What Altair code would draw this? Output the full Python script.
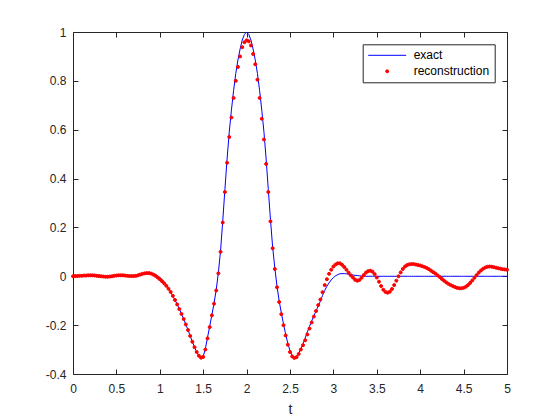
import altair as alt
import pandas as pd

# sample times of the reconstruction (dots every 0.025)
t = [
    0.000, 0.025, 0.050, 0.075, 0.100, 0.125, 0.150, 0.175, 0.200, 0.225,
    0.250, 0.275, 0.300, 0.325, 0.350, 0.375, 0.400, 0.425, 0.450, 0.475,
    0.500, 0.525, 0.550, 0.575, 0.600, 0.625, 0.650, 0.675, 0.700, 0.725,
    0.750, 0.775, 0.800, 0.825, 0.850, 0.875, 0.900, 0.925, 0.950, 0.975,
    1.000, 1.025, 1.050, 1.075, 1.100, 1.125, 1.150, 1.175, 1.200, 1.225,
    1.250, 1.275, 1.300, 1.325, 1.350, 1.375, 1.400, 1.425, 1.450, 1.475,
    1.500, 1.525, 1.550, 1.575, 1.600, 1.625, 1.650, 1.675, 1.700, 1.725,
    1.750, 1.775, 1.800, 1.825, 1.850, 1.875, 1.900, 1.925, 1.950, 1.975,
    2.000, 2.025, 2.050, 2.075, 2.100, 2.125, 2.150, 2.175, 2.200, 2.225,
    2.250, 2.275, 2.300, 2.325, 2.350, 2.375, 2.400, 2.425, 2.450, 2.475,
    2.500, 2.525, 2.550, 2.575, 2.600, 2.625, 2.650, 2.675, 2.700, 2.725,
    2.750, 2.775, 2.800, 2.825, 2.850, 2.875, 2.900, 2.925, 2.950, 2.975,
    3.000, 3.025, 3.050, 3.075, 3.100, 3.125, 3.150, 3.175, 3.200, 3.225,
    3.250, 3.275, 3.300, 3.325, 3.350, 3.375, 3.400, 3.425, 3.450, 3.475,
    3.500, 3.525, 3.550, 3.575, 3.600, 3.625, 3.650, 3.675, 3.700, 3.725,
    3.750, 3.775, 3.800, 3.825, 3.850, 3.875, 3.900, 3.925, 3.950, 3.975,
    4.000, 4.025, 4.050, 4.075, 4.100, 4.125, 4.150, 4.175, 4.200, 4.225,
    4.250, 4.275, 4.300, 4.325, 4.350, 4.375, 4.400, 4.425, 4.450, 4.475,
    4.500, 4.525, 4.550, 4.575, 4.600, 4.625, 4.650, 4.675, 4.700, 4.725,
    4.750, 4.775, 4.800, 4.825, 4.850, 4.875, 4.900, 4.925, 4.950, 4.975,
    5.000,
]

exact = [
    0.000, 0.000, 0.000, 0.000, 0.000, 0.000, 0.000, 0.000, 0.000, 0.000,
    0.000, 0.000, 0.000, 0.000, 0.000, 0.000, 0.000, 0.000, 0.000, 0.000,
    0.000, 0.000, 0.000, 0.000, 0.000, 0.001, 0.001, 0.002, 0.002, 0.003,
    0.004, 0.005, 0.007, 0.008, 0.010, 0.011, 0.011, 0.010, 0.007, 0.002,
    -0.005, -0.013, -0.023, -0.035, -0.049, -0.064, -0.080, -0.097, -0.115, -0.134,
    -0.154, -0.175, -0.197, -0.220, -0.244, -0.268, -0.290, -0.310, -0.325, -0.333,
    -0.328, -0.297, -0.250, -0.205, -0.158, -0.110, -0.055, 0.015, 0.105, 0.225,
    0.355, 0.480, 0.590, 0.680, 0.760, 0.830, 0.885, 0.930, 0.967, 0.990,
    1.000, 0.990, 0.967, 0.930, 0.885, 0.830, 0.760, 0.680, 0.590, 0.480,
    0.355, 0.232, 0.120, 0.035, -0.040, -0.100, -0.150, -0.195, -0.237, -0.275,
    -0.305, -0.325, -0.333, -0.328, -0.315, -0.297, -0.277, -0.253, -0.228, -0.205,
    -0.183, -0.162, -0.142, -0.122, -0.102, -0.078, -0.058, -0.041, -0.027, -0.015,
    -0.005, 0.002, 0.007, 0.010, 0.011, 0.011, 0.010, 0.008, 0.007, 0.005,
    0.004, 0.003, 0.002, 0.001, 0.001, 0.000, 0.000, 0.000, 0.000, 0.000,
    0.000, 0.000, 0.000, 0.000, 0.000, 0.000, 0.000, 0.000, 0.000, 0.000,
    0.000, 0.000, 0.000, 0.000, 0.000, 0.000, 0.000, 0.000, 0.000, 0.000,
    0.000, 0.000, 0.000, 0.000, 0.000, 0.000, 0.000, 0.000, 0.000, 0.000,
    0.000, 0.000, 0.000, 0.000, 0.000, 0.000, 0.000, 0.000, 0.000, 0.000,
    0.000, 0.000, 0.000, 0.000, 0.000, 0.000, 0.000, 0.000, 0.000, 0.000,
    0.000, 0.000, 0.000, 0.000, 0.000, 0.000, 0.000, 0.000, 0.000, 0.000,
    0.000,
]

reconstruction = [
    0.000, 0.001, 0.001, 0.002, 0.002, 0.003, 0.003, 0.004, 0.004, 0.004,
    0.003, 0.002, 0.001, 0.000, -0.001, -0.002, -0.002, -0.001, 0.000, 0.002,
    0.003, 0.004, 0.004, 0.004, 0.003, 0.002, 0.001, 0.001, 0.001, 0.002,
    0.004, 0.007, 0.010, 0.012, 0.013, 0.013, 0.011, 0.007, 0.002, -0.005,
    -0.012, -0.020, -0.029, -0.039, -0.051, -0.064, -0.080, -0.097, -0.115, -0.134,
    -0.154, -0.175, -0.197, -0.220, -0.244, -0.268, -0.290, -0.310, -0.325, -0.333,
    -0.330, -0.300, -0.254, -0.208, -0.160, -0.112, -0.058, 0.012, 0.100, 0.220,
    0.345, 0.465, 0.570, 0.650, 0.730, 0.800, 0.857, 0.900, 0.938, 0.958,
    0.966, 0.962, 0.945, 0.910, 0.868, 0.805, 0.730, 0.645, 0.560, 0.460,
    0.345, 0.225, 0.115, 0.030, -0.045, -0.105, -0.155, -0.200, -0.242, -0.280,
    -0.310, -0.328, -0.334, -0.331, -0.318, -0.300, -0.282, -0.262, -0.238, -0.214,
    -0.189, -0.165, -0.142, -0.118, -0.095, -0.065, -0.036, -0.012, 0.010, 0.027,
    0.040, 0.048, 0.053, 0.053, 0.047, 0.038, 0.027, 0.015, 0.004, -0.005,
    -0.014, -0.018, -0.015, -0.006, 0.005, 0.015, 0.021, 0.023, 0.019, 0.009,
    -0.005, -0.022, -0.040, -0.055, -0.064, -0.067, -0.063, -0.052, -0.036, -0.018,
    0.000, 0.016, 0.030, 0.040, 0.046, 0.049, 0.050, 0.050, 0.048, 0.046,
    0.044, 0.041, 0.038, 0.034, 0.029, 0.023, 0.017, 0.011, 0.004, -0.003,
    -0.011, -0.018, -0.025, -0.031, -0.036, -0.040, -0.044, -0.047, -0.049, -0.049,
    -0.047, -0.043, -0.036, -0.027, -0.017, -0.006, 0.005, 0.015, 0.024, 0.031,
    0.036, 0.039, 0.040, 0.039, 0.037, 0.035, 0.033, 0.031, 0.029, 0.028,
    0.027,
]

series_names = ["exact", "reconstruction"]
series_colors = ["#0000FF", "#FF0000"]
series_shapes = ["stroke", "circle"]
series_sizes = [1444, 9]

x_ticks = [0, 0.5, 1, 1.5, 2, 2.5, 3, 3.5, 4, 4.5, 5]
y_ticks = [-0.4, -0.2, 0, 0.2, 0.4, 0.6, 0.8, 1]

df = pd.DataFrame({"t": t, "exact": exact, "reconstruction": reconstruction})
df["series"] = "reconstruction"

AX = "#262626"
W, H = 434, 342
FONT = "Liberation Sans"

xscale = alt.Scale(domain=[0, 5], nice=False, zero=False)
yscale = alt.Scale(domain=[-0.4, 1], nice=False, zero=False)

legend = alt.Legend(
    title=None, orient="none", legendX=289.7, legendY=12.3, padding=5,
    strokeColor=AX, fillColor="white", labelFont=FONT, labelFontSize=12,
    labelColor="black", labelOffset=7, clipHeight=12, rowPadding=4,
    symbolStrokeWidth=1, cornerRadius=0,
)

line = alt.Chart(df).mark_line(color="#0000FF", strokeWidth=1).encode(
    x=alt.X("t:Q", scale=xscale, axis=alt.Axis(
        orient="top", offset=-H, values=x_ticks, tickSize=5, labelPadding=-14,
        labelBaseline="top", labelFlush=False, format="~g", title="t",
        titleX=W / 2, titleY=39.5, titleBaseline="alphabetic", titleAlign="center",
        titleAngle=0, titleFontWeight="normal", titleFontSize=14, titleFont=FONT,
        titleColor=AX)),
    y=alt.Y("exact:Q", scale=yscale, axis=alt.Axis(
        orient="right", offset=-W, values=y_ticks, tickSize=5, labelPadding=-12,
        labelAlign="right", labelBaseline="middle", labelFlush=False, format="~g",
        labelExpr="replace(datum.label, '\u2212', '-')", title=None)),
)

pts = alt.Chart(df).mark_point(filled=True, opacity=1, strokeWidth=1).encode(
    x=alt.X("t:Q", scale=xscale, axis=alt.Axis(
        orient="bottom", offset=-H, values=x_ticks, tickSize=5, labels=False, title=None)),
    y=alt.Y("reconstruction:Q", scale=yscale, axis=alt.Axis(
        orient="left", offset=-W, values=y_ticks, tickSize=5, labels=False, title=None)),
    fill=alt.Fill("series:N", scale=alt.Scale(domain=series_names, range=series_colors), legend=legend),
    stroke=alt.Stroke("series:N", scale=alt.Scale(domain=series_names, range=series_colors), legend=legend),
    shape=alt.Shape("series:N", scale=alt.Scale(domain=series_names, range=series_shapes), legend=legend),
    size=alt.Size("series:N", scale=alt.Scale(domain=series_names, range=series_sizes), legend=legend),
)

chart = (
    alt.layer(line, pts)
    .resolve_axis(x="independent", y="independent")
    .properties(
        width=W, height=H, autosize="none", background="white",
        padding={"left": 65, "top": 24, "right": 45, "bottom": 46},
    )
    .configure_axis(
        domainColor=AX, tickColor=AX, labelColor=AX, labelFont=FONT,
        labelFontSize=12, grid=False, domainWidth=1, tickWidth=1,
    )
    .configure_view(strokeWidth=0)
)

chart.save("out.html", embed_options={"renderer": "svg", "actions": False})
